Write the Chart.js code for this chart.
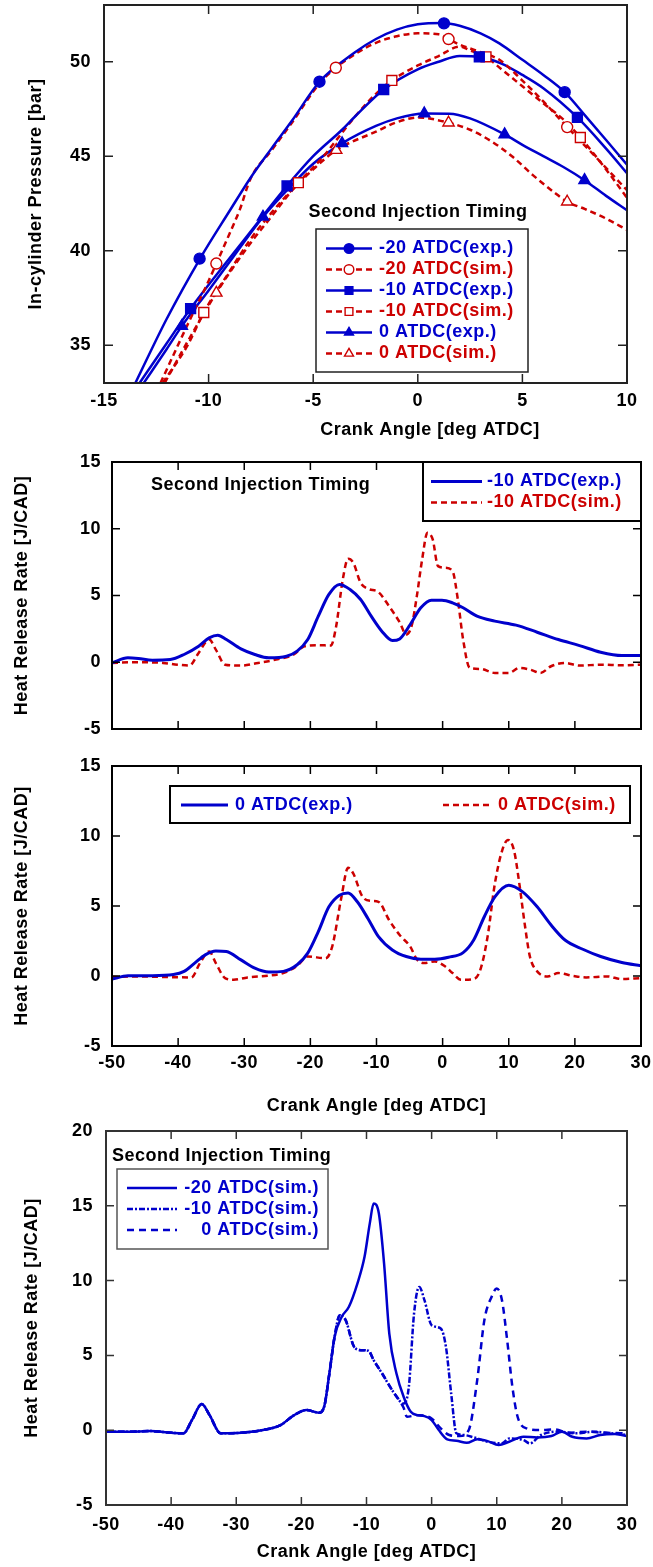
<!DOCTYPE html>
<html><head><meta charset="utf-8">
<script src="https://cdn.jsdelivr.net/npm/chart.js@4/dist/chart.umd.min.js"></script>
<style>
html,body{margin:0;padding:0;background:#fff}
body{width:653px;height:1567px;position:relative;overflow:hidden}
canvas{position:absolute;left:0}
</style></head><body>
<canvas id="c1" width="653" height="445" style="top:0px"></canvas>
<canvas id="c2" width="653" height="295" style="top:445px"></canvas>
<canvas id="c3" width="653" height="380" style="top:740px"></canvas>
<canvas id="c4" width="653" height="447" style="top:1120px"></canvas>
<script>
// ---------------- DATA ----------------
// Panel 1: in-cylinder pressure
const p1XTicks = [-15,-10,-5,0,5,10];
const p1YTicks = [35,40,45,50];
const p1X_m20exp = [-13.5,-12,-10.4,-9,-8,-7,-6,-4.7,-3,-2,-1,0,1.2,2,3,3.9,5,6,7.02,8,9,10];
const p1Y_m20exp = [33.0,36.4,39.6,42.1,43.85,45.4,46.9,48.94,50.5,51.2,51.7,51.98,52.05,51.9,51.5,50.97,50.1,49.3,48.39,47.15,45.86,44.55];
const p1MX_m20exp = [-10.43,-4.70,1.25,7.02];
const p1MY_m20exp = [39.58,48.94,52.03,48.39];
const p1X_m20sim = [-12.3,-11,-10,-9.63,-9,-8.5,-8,-7,-6,-4.7,-3.92,-3,-2,-1,0,1,1.47,2,2.5,3,3.9,5,6,7.14,8.47,10];
const p1Y_m20sim = [33.0,36.1,38.4,39.32,40.9,42.2,43.8,45.3,46.8,48.85,49.68,50.4,51.0,51.35,51.5,51.45,51.2,50.9,50.7,50.5,50.1,49.0,47.9,46.54,45.0,43.2];
const p1MX_m20sim = [-9.63,-3.92,1.47,7.14];
const p1MY_m20sim = [39.32,49.68,51.2,46.54];
const p1X_m10exp = [-13.3,-12,-10.86,-9,-8,-6.25,-5,-3.62,-3,-1.63,0,1,2,2.94,4,5,6,7.63,9,10];
const p1Y_m10exp = [33.0,35.1,36.94,39.6,41.0,43.43,45.0,46.4,47.1,48.53,49.6,50.0,50.3,50.26,49.9,49.3,48.6,47.05,45.4,44.1];
const p1MX_m10exp = [-10.86,-6.25,-1.63,2.94,7.63];
const p1MY_m10exp = [36.94,43.43,48.53,50.26,47.05];
const p1X_m10sim = [-12.2,-11,-10.23,-9,-8,-7,-5.71,-4.5,-4,-3,-2,-1.24,0,1,2,2.5,3.26,4,5,6,7,7.77,9,10];
const p1Y_m10sim = [33.0,35.0,36.73,38.9,40.6,42.0,43.6,45.0,45.7,47.1,48.3,49.01,49.8,50.3,50.8,50.6,50.26,49.6,48.7,47.8,46.9,45.99,44.3,42.8];
const p1MX_m10sim = [-10.23,-5.71,-1.24,3.26,7.77];
const p1MY_m10sim = [36.73,43.6,49.01,50.26,45.99];
const p1X_0exp = [-13.1,-12,-11.28,-10,-9,-7.4,-6,-5,-3.62,-2,-1,0.31,1.5,2.5,4.15,5,6,7,7.97,9,10];
const p1Y_0exp = [33.0,34.8,36.01,37.9,39.4,41.79,43.5,44.6,45.68,46.6,47.0,47.26,47.25,47.0,46.15,45.6,45.0,44.4,43.73,42.9,42.14];
const p1MX_0exp = [-11.28,-7.40,-3.62,0.31,4.15,7.97];
const p1MY_0exp = [36.01,41.79,45.68,47.26,46.15,43.73];
const p1X_0sim = [-12.1,-11,-9.63,-8,-7,-6,-5,-3.9,-2,-1,0,1.47,2.5,3.5,4.5,5.5,6.5,7.14,8,9,10];
const p1Y_0sim = [33.0,35.2,37.77,40.4,41.8,43.2,44.3,45.32,46.3,46.8,47.05,46.77,46.4,45.8,45.0,44.0,43.1,42.59,42.2,41.7,41.1];
const p1MX_0sim = [-9.63,-3.9,1.47,7.14];
const p1MY_0sim = [37.77,45.32,46.77,42.59];

// Panels 2-4: heat release rate
const hrXTicks = [-50,-40,-30,-20,-10,0,10,20,30];
const hrYTicks = [-5,0,5,10,15];
const p4YTicks = [-5,0,5,10,15,20];

const p2X_exp = [-50,-47.6,-46,-43.9,-41.2,-39.1,-36.9,-35.3,-34,-32.7,-30.5,-28.4,-26.3,-23.6,-22,-20.4,-18.8,-17.2,-15.6,-14,-12.4,-10.8,-9.2,-7.6,-6.5,-4.9,-3.3,-1.7,-0.1,1.5,3.1,5.2,7.9,11.1,14.3,17.5,20.7,23.9,27.1,30];
const p2Y_exp = [-0.05,0.33,0.28,0.15,0.2,0.58,1.2,1.83,2.03,1.7,1.0,0.58,0.33,0.45,0.83,1.7,3.45,5.08,5.83,5.45,4.7,3.45,2.33,1.63,1.75,2.83,4.08,4.65,4.65,4.45,4.08,3.45,3.08,2.78,2.25,1.7,1.25,0.75,0.5,0.5];
const p2X_sim = [-50,-46.5,-42.3,-40.1,-38.3,-36.9,-35.3,-34.3,-32.9,-30.5,-27.9,-25.2,-22.5,-20.9,-18.8,-16.9,-16.1,-15.1,-14.3,-13.5,-12.4,-11.3,-9.7,-8.1,-6.5,-5.5,-4.7,-3.9,-3.1,-2.3,-1.5,-0.7,0.4,1.5,2.3,3.1,4.1,5.7,7.9,10,11.6,13.2,14.8,16.4,18.5,20.7,23.9,27.1,30];
const p2Y_sim = [-0.05,0,-0.05,-0.18,-0.25,0.7,1.7,0.95,-0.18,-0.25,-0.05,0.2,0.58,1.2,1.28,1.25,2.7,6.2,7.75,7.45,5.95,5.5,5.25,4.2,3.0,2.08,2.7,4.95,7.7,9.7,9.2,7.2,7.08,6.83,4.7,1.7,-0.43,-0.5,-0.8,-0.8,-0.43,-0.55,-0.8,-0.3,-0.05,-0.25,-0.18,-0.23,-0.18];

const p3X_exp = [-50,-47.6,-43.9,-40.7,-39.1,-37.5,-35.9,-34.3,-32.7,-30.5,-28.4,-26.3,-24.1,-22,-20.4,-18.8,-17.2,-15.6,-14.3,-12.9,-11.3,-9.7,-7.6,-5.5,-3.3,-1.2,0.9,3.1,4.7,6.3,7.9,10,12.1,14.3,16.4,18.5,21.2,23.9,27.1,30];
const p3Y_exp = [-0.22,0.02,0.02,0.1,0.33,0.92,1.51,1.79,1.75,1.15,0.56,0.28,0.33,0.8,1.63,3.17,4.94,5.77,5.93,5.3,4.11,2.81,1.86,1.39,1.2,1.2,1.34,1.67,2.57,4.23,5.65,6.48,6.01,4.94,3.64,2.57,1.91,1.39,0.96,0.73];
const p3X_sim = [-50,-46.5,-41.2,-38,-36.7,-35.3,-34.3,-32.9,-31.6,-29.5,-26.3,-24.1,-22,-20.4,-17.7,-16.7,-15.3,-14.3,-13.5,-12.1,-10.8,-9.7,-8.1,-6.5,-4.9,-3.9,-2.8,-1.2,0.4,1.5,2.8,4.7,5.7,6.8,7.9,9.0,9.9,10.8,11.6,12.4,13.2,14.3,15.9,17.5,19.6,21.7,24.9,27.1,30];
const p3Y_sim = [-0.08,-0.03,-0.08,-0.1,0.92,1.75,0.92,-0.15,-0.27,-0.1,0.02,0.21,0.73,1.39,1.27,2.1,5.65,7.73,7.31,5.65,5.37,5.3,4.0,2.93,2.1,1.2,0.92,1.04,0.68,0.21,-0.27,-0.22,0.44,2.81,6.6,8.96,9.72,8.96,6.6,3.76,1.39,0.33,-0.03,0.21,0.02,-0.1,-0.03,-0.22,-0.15];

const p4X_m20 = [-50,-46.5,-43.2,-40,-38.1,-36.8,-35.3,-34.1,-32.4,-29.2,-25.9,-23.2,-21.1,-19.2,-17.3,-16.5,-15.7,-14.9,-13.8,-12.7,-11.4,-10.3,-9.5,-8.9,-8.1,-7.3,-6.5,-5.4,-4.3,-3.2,-2.2,-1.1,0,1.1,2.4,3.8,5.4,7.0,8.6,10.3,11.9,14.1,16.2,18.4,20.0,21.6,23.8,25.9,28.1,30];
const p4Y_m20 = [-0.1,-0.1,-0.06,-0.17,-0.21,0.68,1.75,1.01,-0.21,-0.17,0.01,0.34,1.01,1.35,1.17,1.57,3.79,6.24,7.58,8.25,9.8,11.59,13.81,15.15,14.48,11.14,6.46,3.79,2.24,1.23,1.01,0.94,0.68,0.01,-0.61,-0.7,-0.84,-0.61,-0.73,-0.99,-0.77,-0.44,-0.48,-0.39,-0.1,-0.44,-0.55,-0.32,-0.26,-0.39];
const p4X_m10 = [-50,-46.5,-43.2,-40,-38.1,-36.8,-35.3,-34.1,-32.4,-29.2,-25.9,-23.2,-21.1,-19.2,-17.3,-16.5,-15.7,-14.9,-14.1,-13.2,-11.9,-10.8,-9.7,-8.9,-7.6,-5.9,-4.3,-3.5,-2.7,-1.9,-1.1,0,1.4,2.2,3.0,3.8,4.9,6.5,8.6,10.8,11.9,14.1,15.1,16.8,19.5,22.2,24.9,27.6,30];
const p4Y_m10 = [-0.1,-0.1,-0.06,-0.17,-0.21,0.68,1.75,1.01,-0.21,-0.17,0.01,0.34,1.01,1.35,1.17,1.57,3.79,6.24,7.69,7.36,5.57,5.35,5.31,4.68,3.79,2.57,1.79,2.9,7.8,9.58,8.69,7.02,6.8,5.57,2.46,-0.21,-0.32,-0.48,-0.77,-0.88,-0.55,-0.66,-0.88,-0.32,-0.1,-0.21,-0.1,-0.21,-0.32];
const p4X_0 = [-50,-46.5,-43.2,-40,-38.1,-36.8,-35.3,-34.1,-32.4,-29.2,-25.9,-23.2,-21.1,-19.2,-17.3,-16.5,-15.7,-14.9,-14.1,-13.2,-11.9,-10.8,-9.7,-8.9,-7.6,-5.9,-4.3,-3.8,-2.2,0,1.4,2.7,4.3,5.7,7.0,8.1,9.2,10.0,10.8,11.6,12.4,13.2,14.6,16.8,18.9,21.1,23.8,26.5,30];
const p4Y_0 = [-0.1,-0.1,-0.06,-0.17,-0.21,0.68,1.75,1.01,-0.21,-0.17,0.01,0.34,1.01,1.35,1.17,1.57,3.79,6.24,7.69,7.36,5.57,5.35,5.31,4.68,3.79,2.57,1.5,0.9,1.0,0.78,0.12,-0.32,-0.39,0.01,3.35,7.36,8.91,9.47,8.69,6.02,2.9,0.9,0.12,0.01,0.05,-0.17,-0.1,-0.17,-0.21];

// ---------------- STYLE / HELPERS ----------------
const FAMILY = '"Liberation Sans", Arial, Helvetica, sans-serif';
const FONT = 'bold 18px ' + FAMILY;
const cFont = {family: FAMILY, size: 18, weight: 'bold'};
const BLUE = '#0000cc', RED = '#cc0000';
const SPACING = '0.5px';

function pts(xs, ys){ return xs.map((x,i)=>({x:x, y:ys[i]})); }
function lineDS(label, xs, ys, color, dash, width){
  return {type:'line', label:label, data:pts(xs,ys), borderColor:color, backgroundColor:color,
    borderDash:dash||[], borderWidth:width, pointRadius:0, pointHoverRadius:0, fill:false,
    cubicInterpolationMode:'monotone', borderCapStyle:'butt', borderJoinStyle:'round'};
}
function markDS(label, xs, ys, style, color, filled, r){
  return {type:'line', label:label, data:pts(xs,ys), showLine:false, pointStyle:style,
    pointRadius:r, pointHoverRadius:r, pointBorderWidth:1.4, borderColor:color,
    pointBorderColor:color, pointBackgroundColor: filled?color:'#ffffff', backgroundColor: filled?color:'#ffffff'};
}
function drawMarker(ctx, style, x, y, r, fill, stroke){
  ctx.save();
  ctx.setLineDash([]);
  ctx.beginPath();
  if(style==='circle'){ ctx.arc(x,y,r,0,Math.PI*2); }
  else if(style==='rect'){ const s=r*Math.SQRT1_2; ctx.rect(x-s,y-s,2*s,2*s); }
  else if(style==='triangle'){
    let a=0; ctx.moveTo(x+Math.sin(a)*r, y-Math.cos(a)*r);
    a+=2*Math.PI/3; ctx.lineTo(x+Math.sin(a)*r, y-Math.cos(a)*r);
    a+=2*Math.PI/3; ctx.lineTo(x+Math.sin(a)*r, y-Math.cos(a)*r);
    ctx.closePath();
  }
  ctx.fillStyle=fill; ctx.fill();
  ctx.lineWidth=1.4; ctx.strokeStyle=stroke; ctx.stroke();
  ctx.restore();
}

const decor = {
  id:'decor',
  beforeUpdate(c){ c.ctx.letterSpacing = SPACING; },
  beforeDraw(c){
    const ctx=c.ctx; ctx.save(); ctx.fillStyle='#fff'; ctx.fillRect(0,0,c.width,c.height); ctx.restore();
    ctx.letterSpacing = SPACING;
  },
  afterDraw(c, args, o){
    const ctx=c.ctx, a=c.chartArea, xs=c.scales.x, ys=c.scales.y, L=o.tickLen||8;
    ctx.save();
    ctx.letterSpacing = SPACING;
    // inward tick marks
    ctx.strokeStyle=o.frameColor||'#000'; ctx.lineWidth=o.tickWidth||1.5; ctx.setLineDash([]);
    ctx.beginPath();
    xs.ticks.forEach(t=>{ const p=xs.getPixelForValue(t.value); if(p<=a.left+2||p>=a.right-2) return;
      ctx.moveTo(p,a.top); ctx.lineTo(p,a.top+L); ctx.moveTo(p,a.bottom); ctx.lineTo(p,a.bottom-L); });
    ys.ticks.forEach(t=>{ const p=ys.getPixelForValue(t.value); if(p<=a.top+2||p>=a.bottom-2) return;
      ctx.moveTo(a.left,p); ctx.lineTo(a.left+L,p); ctx.moveTo(a.right,p); ctx.lineTo(a.right-L,p); });
    ctx.stroke();
    // frame
    ctx.lineWidth=o.frameWidth||2;
    ctx.strokeRect(a.left,a.top,a.right-a.left,a.bottom-a.top);
    // free texts
    ctx.textBaseline='middle';
    (o.texts||[]).forEach(t=>{ ctx.font=FONT; ctx.fillStyle=t.color||'#000'; ctx.textAlign=t.align||'left'; ctx.fillText(t.text,t.x,t.y); });
    // legend
    const lg=o.legend;
    if(lg){
      if(lg.box){ const b=lg.box; ctx.fillStyle='#fff'; ctx.fillRect(b.x,b.y,b.w,b.h);
        ctx.strokeStyle=b.color; ctx.lineWidth=b.width; ctx.strokeRect(b.x,b.y,b.w,b.h); }
      lg.items.forEach(it=>{
        const ds=c.data.datasets[it.ds];
        ctx.save();
        ctx.strokeStyle=ds.borderColor; ctx.lineWidth=it.lw||ds.borderWidth; ctx.setLineDash(ds.borderDash||[]);
        ctx.lineCap='butt';
        ctx.beginPath(); ctx.moveTo(it.x1,it.y); ctx.lineTo(it.x2,it.y); ctx.stroke();
        ctx.restore();
        if(it.mk!==undefined){ const m=c.data.datasets[it.mk];
          drawMarker(ctx, m.pointStyle, it.mx, it.y, it.mr, m.pointBackgroundColor, m.pointBorderColor); }
        ctx.font=FONT; ctx.fillStyle=ds.borderColor; ctx.textAlign=it.align||'left'; ctx.textBaseline='middle';
        ctx.fillText(ds.label, it.tx, it.y);
      });
    }
    ctx.restore();
  }
};

function axes(o){
  return {
    x:{type:'linear', min:o.xMin, max:o.xMax,
      afterBuildTicks:s=>{ s.ticks=o.xTicks.map(v=>({value:v})); },
      afterFit:s=>{ s.height=o.xH; s.paddingLeft=0; s.paddingRight=0; },
      grid:{display:false, drawTicks:false, tickLength:0}, border:{display:false},
      ticks:{display:o.xLabels, font:cFont, color:'#000', padding:o.xPad, maxRotation:0, minRotation:0, autoSkip:false},
      title:{display:!!o.xTitle, text:o.xTitle||'', font:cFont, color:'#000', padding:{top:0,bottom:o.xTitlePad||0}}},
    y:{type:'linear', min:o.yMin, max:o.yMax,
      afterBuildTicks:s=>{ s.ticks=o.yTicks.map(v=>({value:v})); },
      afterFit:s=>{ s.width=o.yW; s.paddingTop=0; s.paddingBottom=0; },
      grid:{display:false, drawTicks:false, tickLength:0}, border:{display:false},
      ticks:{font:cFont, color:'#000', padding:o.yPad, autoSkip:false},
      title:{display:true, text:o.yTitle, font:cFont, color:'#000', padding:{top:o.yTitlePad,bottom:0}}}
  };
}
function make(id, datasets, scaleOpts, pad, decorOpts){
  return new Chart(document.getElementById(id), {
    type:'line',
    data:{datasets:datasets},
    options:{responsive:false, maintainAspectRatio:false, animation:false, devicePixelRatio:1, events:[],
      layout:{padding:pad, autoPadding:false},
      scales:axes(scaleOpts),
      plugins:{legend:{display:false}, tooltip:{enabled:false}, decor:decorOpts}},
    plugins:[decor]
  });
}

// ---------------- PANEL 1 ----------------
make('c1', [
  markDS('-20 ATDC(exp.)', p1MX_m20exp, p1MY_m20exp, 'circle', BLUE, true, 5.5),
  markDS('-20 ATDC(sim.)', p1MX_m20sim, p1MY_m20sim, 'circle', RED, false, 5.5),
  markDS('-10 ATDC(exp.)', p1MX_m10exp, p1MY_m10exp, 'rect', BLUE, true, 7),
  markDS('-10 ATDC(sim.)', p1MX_m10sim, p1MY_m10sim, 'rect', RED, false, 7),
  markDS('0 ATDC(exp.)', p1MX_0exp, p1MY_0exp, 'triangle', BLUE, true, 6.5),
  markDS('0 ATDC(sim.)', p1MX_0sim, p1MY_0sim, 'triangle', RED, false, 6.5),
  lineDS('-20 ATDC(exp.)', p1X_m20exp, p1Y_m20exp, BLUE, [], 2.5),
  lineDS('-20 ATDC(sim.)', p1X_m20sim, p1Y_m20sim, RED, [6,4], 2.5),
  lineDS('-10 ATDC(exp.)', p1X_m10exp, p1Y_m10exp, BLUE, [], 2.5),
  lineDS('-10 ATDC(sim.)', p1X_m10sim, p1Y_m10sim, RED, [6,4], 2.5),
  lineDS('0 ATDC(exp.)', p1X_0exp, p1Y_0exp, BLUE, [], 2.5),
  lineDS('0 ATDC(sim.)', p1X_0sim, p1Y_0sim, RED, [6,4], 2.5)
], {xMin:-15,xMax:10,xTicks:p1XTicks,xH:62,xLabels:true,xPad:7,
    yMin:33,yMax:53,yTicks:p1YTicks,yW:104,yPad:13,yTitle:'In-cylinder Pressure [bar]',yTitlePad:25.5},
  {top:5,right:26,bottom:0,left:0},
  {tickLen:9, frameColor:'#222', frameWidth:2,
   texts:[{text:'Crank Angle [deg ATDC]', x:430, y:430, align:'center'},
          {text:'Second Injection Timing', x:418, y:212, align:'center'}],
   legend:{box:{x:316,y:229,w:212,h:143,color:'#222',width:1.5},
     items:[
       {ds:6, mk:0, x1:326,x2:372,y:248.5,mx:349,mr:4.8,tx:379},
       {ds:7, mk:1, x1:326,x2:372,y:269.5,mx:349,mr:4.8,tx:379},
       {ds:8, mk:2, x1:326,x2:372,y:290.5,mx:349,mr:5.5,tx:379},
       {ds:9, mk:3, x1:326,x2:372,y:311.5,mx:349,mr:5.5,tx:379},
       {ds:10, mk:4, x1:326,x2:372,y:332.5,mx:349,mr:5.2,tx:379},
       {ds:11, mk:5, x1:326,x2:372,y:353.5,mx:349,mr:5.2,tx:379}
     ]}});

// ---------------- PANEL 2 ----------------
make('c2', [
  lineDS('-10 ATDC(exp.)', p2X_exp, p2Y_exp, BLUE, [], 3),
  lineDS('-10 ATDC(sim.)', p2X_sim, p2Y_sim, RED, [6,4], 2.5)
], {xMin:-50,xMax:30,xTicks:hrXTicks,xH:11,xLabels:false,xPad:0,
    yMin:-5,yMax:15,yTicks:hrYTicks,yW:112,yPad:11,yTitle:'Heat Release Rate [J/CAD]',yTitlePad:11},
  {top:17,right:12,bottom:0,left:0},
  {tickLen:8, frameColor:'#000', frameWidth:2,
   texts:[{text:'Second Injection Timing', x:151, y:40, align:'left'}],
   legend:{box:{x:423,y:17,w:218,h:59,color:'#000',width:2},
     items:[
       {ds:0, x1:431,x2:482,y:36.5,tx:487},
       {ds:1, x1:431,x2:482,y:57.5,tx:487}
     ]}});

// ---------------- PANEL 3 ----------------
make('c3', [
  lineDS('0 ATDC(exp.)', p3X_exp, p3Y_exp, BLUE, [], 3),
  lineDS('0 ATDC(sim.)', p3X_sim, p3Y_sim, RED, [6,4], 2.5)
], {xMin:-50,xMax:30,xTicks:hrXTicks,xH:74,xLabels:true,xPad:6,xTitle:'Crank Angle [deg ATDC]',xTitlePad:3,
    yMin:-5,yMax:15,yTicks:hrYTicks,yW:112,yPad:11,yTitle:'Heat Release Rate [J/CAD]',yTitlePad:11},
  {top:26,right:12,bottom:0,left:0},
  {tickLen:8, frameColor:'#000', frameWidth:2,
   legend:{box:{x:170,y:46,w:460,h:37,color:'#000',width:2},
     items:[
       {ds:0, x1:181,x2:228,y:65,tx:235},
       {ds:1, x1:443,x2:492,y:65,tx:498}
     ]}});

// ---------------- PANEL 4 ----------------
make('c4', [
  lineDS('-20 ATDC(sim.)', p4X_m20, p4Y_m20, BLUE, [], 2.5),
  lineDS('-10 ATDC(sim.)', p4X_m10, p4Y_m10, BLUE, [6,2,2,2], 2.5),
  lineDS('0 ATDC(sim.)', p4X_0, p4Y_0, BLUE, [7,5], 2.5)
], {xMin:-50,xMax:30,xTicks:hrXTicks,xH:62,xLabels:true,xPad:9,xTitle:'Crank Angle [deg ATDC]',xTitlePad:4,
    yMin:-5,yMax:20,yTicks:p4YTicks,yW:106,yPad:13,yTitle:'Heat Release Rate [J/CAD]',yTitlePad:21},
  {top:11,right:26,bottom:0,left:0},
  {tickLen:8, frameColor:'#333', frameWidth:2,
   texts:[{text:'Second Injection Timing', x:112, y:36, align:'left'}],
   legend:{box:{x:117,y:49,w:211,h:80,color:'#555',width:1.5},
     items:[
       {ds:0, x1:127,x2:177,y:68,tx:319,align:'right'},
       {ds:1, x1:127,x2:177,y:89,tx:319,align:'right'},
       {ds:2, x1:127,x2:177,y:110,tx:319,align:'right'}
     ]}});
</script>
</body></html>
